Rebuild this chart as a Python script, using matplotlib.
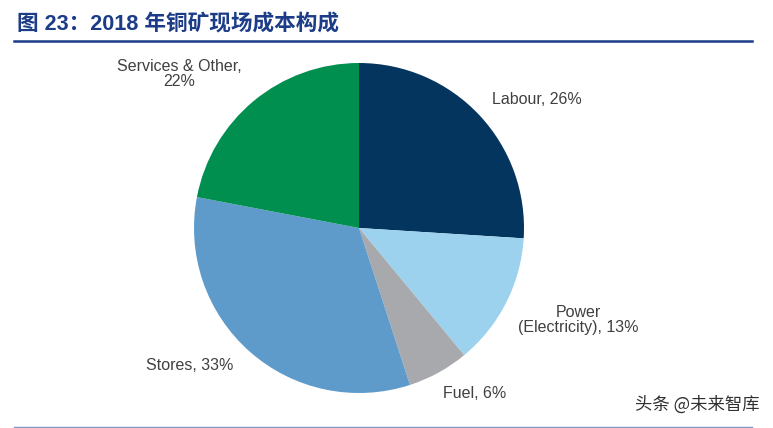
import matplotlib
matplotlib.use("Agg")
import matplotlib.pyplot as plt
from matplotlib.lines import Line2D

# data
categories = ["Labour", "Power\n(Electricity)", "Fuel", "Stores", "Services & Other,\n"]
shares = [26, 13, 6, 33, 22]
colors = ["#03355f", "#9dd2ee", "#a7a9ac", "#5e9bcb", "#008f4f"]
label_text = [f"{c}, {s}%" if not c.endswith("\n") else f"{c}{s}%"
              for c, s in zip(categories, shares)]
# label centres in pixels (x, y from top)
label_pos = [(537, 100), (578, 320), (475, 394), (190, 365), (179, 74)]

W, H = 773, 428
fig = plt.figure(figsize=(W / 100, H / 100), dpi=100)

# pie: centre (359, 228) px, radius 165 px
cx, cy, r = 359, 228, 165
ax = fig.add_axes([(cx - r) / W, (H - cy - r) / H, 2 * r / W, 2 * r / H])
ax.pie(shares, colors=colors, startangle=90, counterclock=False,
       radius=1.0, wedgeprops=dict(linewidth=0))
ax.set_xlim(-1, 1)
ax.set_ylim(-1, 1)
ax.set_aspect("equal")
ax.axis("off")

for txt, (x, y) in zip(label_text, label_pos):
    fig.text(x / W, 1 - y / H, txt, ha="center", va="center",
             fontsize=11.5, color="#404040", family="Liberation Sans",
             linespacing=1.05)

# title and rules
fig.text(17 / W, 1 - 24 / H, "图 23：2018 年铜矿现场成本构成", ha="left", va="center",
         fontsize=15.6, fontweight="bold", color="#1c3c88",
         family=["Liberation Sans", "Noto Sans CJK SC"])
fig.add_artist(Line2D([14 / W, 752 / W], [1 - 41 / H, 1 - 41 / H], color="#1c3c88", linewidth=1.8))
fig.add_artist(Line2D([14 / W, 752 / W], [1 - 427 / H, 1 - 427 / H], color="#7f95c4", linewidth=1.0))

# watermark
fig.text(760 / W, 1 - 405 / H, "头条 @未来智库", ha="right", va="center",
         fontsize=12.5, color="#303030", family=["Noto Sans CJK SC", "DejaVu Sans"])

fig.savefig("out.png", dpi=100)
